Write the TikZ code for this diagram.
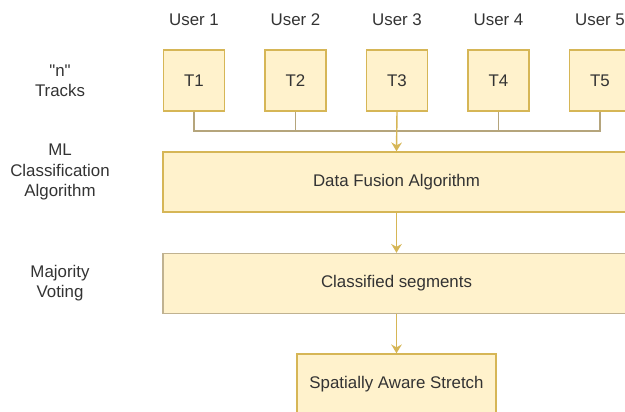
\documentclass[tikz,border=0pt]{standalone}
\usepackage{fontspec}
\setmainfont{Liberation Sans}
\newfontfamily\straightquotes{Liberation Sans}
\usepackage{tikz}
\usetikzlibrary{arrows.meta}

\definecolor{boxfill}{HTML}{FFF2CC}
\definecolor{boxline}{HTML}{D6B656}
\definecolor{busline}{HTML}{B5A57C}
\definecolor{inkgrey}{HTML}{333333}

\tikzset{
  every node/.style={font=\fontsize{9.6}{11.5}\selectfont, text=inkgrey},
  track/.style={draw=boxline, fill=boxfill, thick, minimum width=1.22cm, minimum height=1.22cm},
  stage/.style={draw=boxline, fill=boxfill, thick, minimum height=1.2cm},
  bus/.style={draw=busline, thick},
  flow/.style={draw=boxline, thick, -{Stealth[length=5pt,width=6pt]}}
}

\begin{document}
\begin{tikzpicture}[scale=1.0]
 \useasboundingbox (0,0) rectangle (12.5,8.24);
 % users and their tracks
 \foreach \i/\x in {1/3.88,2/5.91,3/7.94,4/9.97,5/12.0} {
  \node (user\i) at (\x,7.84) {User \i};
  \node[track] (t\i) at (\x,6.63) {T\i};
 }
 % processing stages
 \node[stage, minimum width=9.34cm] (fusion) at (7.93,4.6) {Data Fusion Algorithm};
 \node[stage, minimum width=9.34cm, draw=busline!85] (segments) at (7.93,2.57) {Classified segments};
 \node[stage, minimum width=3.98cm] (stretch) at (7.93,0.56) {Spatially Aware Stretch};
 % row captions
 \node[align=center] (tracks) at (1.2,6.63) {{\straightquotes"n"}\\Tracks};
 \node[align=center] (mlcap) at (1.2,4.8) {ML\\Classification\\Algorithm};
 \node[align=center] (votecap) at (1.2,2.57) {Majority\\Voting};
 % tracks joined on a common bus
 \coordinate (hub) at (7.94,5.62);
 \foreach \i in {1,2,4,5} \draw[bus] (t\i.south) |- (hub);
 \draw[flow] (t3.south) -- (fusion.north);
 \draw[flow] (fusion.south) -- (segments.north);
 \draw[flow] (segments.south) -- (stretch.north);
\end{tikzpicture}
\end{document}
